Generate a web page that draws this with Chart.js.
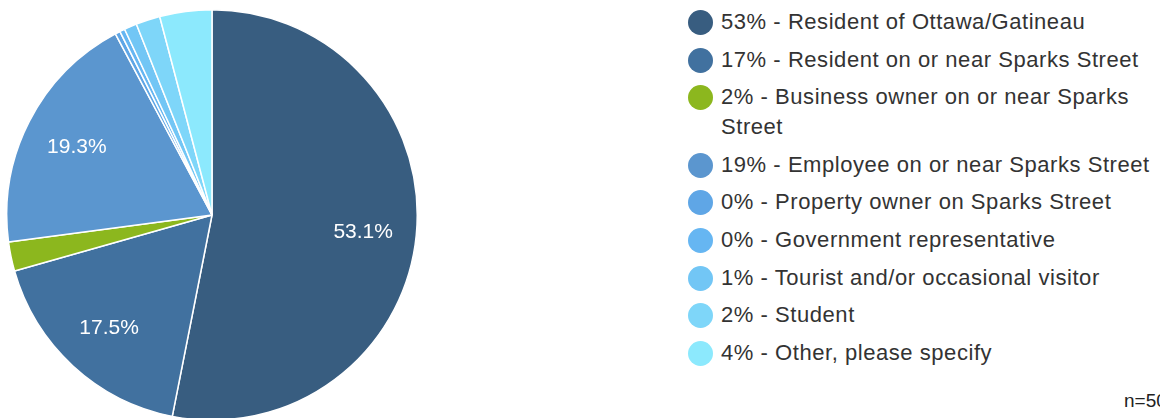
<!DOCTYPE html>
<html lang="en">
<head>
  <meta charset="UTF-8">
  <title>Respondent type</title>
  <script src="https://cdn.jsdelivr.net/npm/chart.js"></script>
  <style>
    html, body { margin: 0; padding: 0; background: #fff; }
    body { width: 1160px; height: 418px; overflow: hidden; position: relative; font-family: "Liberation Sans", Arial, sans-serif; }
    #pieBox { position: absolute; left: 6px; top: 9px; width: 412px; height: 412px; }
    #legend { position: absolute; left: 688px; top: 8px; width: 490px; color: #333; }
    .item { display: flex; align-items: flex-start; margin-bottom: 8.6px; }
    .dot { width: 25px; height: 25px; border-radius: 50%; flex: none; margin-top: 2px; margin-right: 8px; }
    .txt { font-size: 22px; line-height: 30px; letter-spacing: 0.55px; width: 440px; margin-top: -1px; }
    #n { position: absolute; left: 1124px; top: 390px; font-size: 19px; color: #222; white-space: nowrap; }
  </style>
</head>
<body>
  <div id="pieBox"><canvas id="pie"></canvas></div>
  <div id="legend"></div>
  <div id="n">n=50</div>

  <script>
    const categories = [
      "Resident of Ottawa/Gatineau",
      "Resident on or near Sparks Street",
      "Business owner on or near Sparks Street",
      "Employee on or near Sparks Street",
      "Property owner on Sparks Street",
      "Government representative",
      "Tourist and/or occasional visitor",
      "Student",
      "Other, please specify"
    ];
    const values = [53.1, 17.5, 2.3, 19.3, 0.4, 0.4, 1.0, 1.9, 4.1];
    const legendPct = ["53%", "17%", "2%", "19%", "0%", "0%", "1%", "2%", "4%"];
    const colors = ["#385d80", "#41719f", "#8cb71e", "#5b96cf", "#5fa6e6", "#66b6f2", "#72c6f5", "#7ed6f9", "#8ce9fd"];

    // labels inside the big slices
    const sliceLabels = {
      id: "sliceLabels",
      afterDatasetsDraw(chart) {
        const ctx = chart.ctx;
        const meta = chart.getDatasetMeta(0);
        ctx.save();
        ctx.fillStyle = "#fff";
        ctx.font = "21px 'Liberation Sans', Arial, sans-serif";
        ctx.textAlign = "center";
        ctx.textBaseline = "middle";
        meta.data.forEach((arc, i) => {
          if (values[i] < 10) return;
          const mid = (arc.startAngle + arc.endAngle) / 2;
          const r = arc.outerRadius * 0.74;
          ctx.fillText(values[i].toFixed(1) + "%", arc.x + Math.cos(mid) * r, arc.y + Math.sin(mid) * r + 2);
        });
        ctx.restore();
      }
    };

    new Chart(document.getElementById("pie"), {
      type: "pie",
      data: {
        labels: categories,
        datasets: [{
          data: values,
          backgroundColor: colors,
          borderColor: "#fff",
          borderWidth: 1.5,
          hoverOffset: 0
        }]
      },
      options: {
        responsive: true,
        maintainAspectRatio: false,
        animation: false,
        layout: { padding: 0 },
        plugins: { legend: { display: false }, tooltip: { enabled: false } }
      },
      plugins: [sliceLabels]
    });

    const legend = document.getElementById("legend");
    categories.forEach((c, i) => {
      const item = document.createElement("div");
      item.className = "item";
      item.innerHTML = '<span class="dot" style="background:' + colors[i] + '"></span>' +
        '<span class="txt">' + legendPct[i] + " - " + c + "</span>";
      legend.appendChild(item);
    });
  </script>
</body>
</html>
